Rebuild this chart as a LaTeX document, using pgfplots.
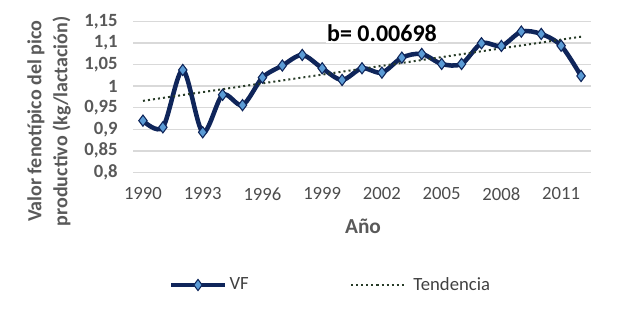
\documentclass[border=0pt]{standalone}
\usepackage{pgfplots}
\pgfplotsset{compat=1.18}
\usepackage{fontspec}
\setmainfont{Carlito}
\definecolor{navy}{RGB}{15,37,90}
\definecolor{mk}{RGB}{91,155,213}
\definecolor{gridc}{RGB}{217,217,217}
\definecolor{txt}{RGB}{89,89,89}
\definecolor{trend}{RGB}{40,60,40}
\begin{document}
\begin{tikzpicture}[x=0.75pt,y=0.75pt]
\path[use as bounding box] (-133,-140.7) rectangle (487,172.3);
\begin{axis}[
  at={(0,0)}, anchor=south west,
  scale only axis, width=343.5pt, height=113pt,
  xmin=1989.5, xmax=2012.5, ymin=0.8, ymax=1.15,
  xtick={1990,1993,...,2011},
  ytick={0.8,0.85,...,1.16},
  yticklabels={0{,}8,0{,}85,0{,}9,0{,}95,1,1{,}05,1{,}1,1{,}15},
  xticklabel style={font=\fontsize{14}{16}\selectfont, text=txt!85!black, yshift=-8pt},
  yticklabel style={font=\bfseries\fontsize{14}{16}\selectfont, text=txt, xshift=-8pt},
  /pgf/number format/assume math mode=true,
  xticklabel={\pgfmathprintnumber[1000 sep={}]{\tick}},
  axis line style={draw=none},
  major tick length=0pt,
  ymajorgrids, grid style={gridc, line width=1.1pt},
  clip=false,
  legend columns=2,
  legend style={draw=none, fill=none, at={(rel axis cs:0.432,-0.748)}, anchor=center,
    font=\fontsize{14}{16}\selectfont, text=black!75,
    /tikz/every even column/.append style={column sep=74pt}},
  legend image code/.code={\draw[mark repeat=2,mark phase=2,#1] plot coordinates {(0pt,0pt) (20pt,0pt) (40pt,0pt)};},
]
\addplot[navy, line width=3.4pt, smooth, tension=0.5, mark=diamond*, mark size=4.2pt,
  mark options={fill=mk, draw=navy, line width=0.8pt, solid}] coordinates {
(1990,0.920) (1991,0.9045) (1992,1.0377) (1993,0.893) (1994,0.980) (1995,0.956)
(1996,1.020) (1997,1.048) (1998,1.0726) (1999,1.0417) (2000,1.0145) (2001,1.0417)
(2002,1.0315) (2003,1.0663) (2004,1.075) (2005,1.0517) (2006,1.0517) (2007,1.0998)
(2008,1.0935) (2009,1.1268) (2010,1.1214) (2011,1.094) (2012,1.0238)};
\addlegendentry{VF}
\addplot[trend, line width=1.5pt, dash pattern=on 1.5pt off 2.3pt] coordinates {(1990,0.966) (2012,1.115)};
\addlegendentry{\hspace{4pt}Tendencia}
\end{axis}
% y label
\node[rotate=90, align=center, text=txt, font=\bfseries\fontsize{15}{19.5}\selectfont] at (-84,51) {Valor fenotípico del pico\\productivo (kg/lactación)};
% x label
\node[text=txt, font=\bfseries\fontsize{16}{18}\selectfont] at (230,-54) {Año};
% b label
\node[fill=white, inner sep=1pt, text=black, font=\bfseries\fontsize{18}{20}\selectfont] at (249,139.3) {b= 0.00698};
\end{tikzpicture}
\end{document}
